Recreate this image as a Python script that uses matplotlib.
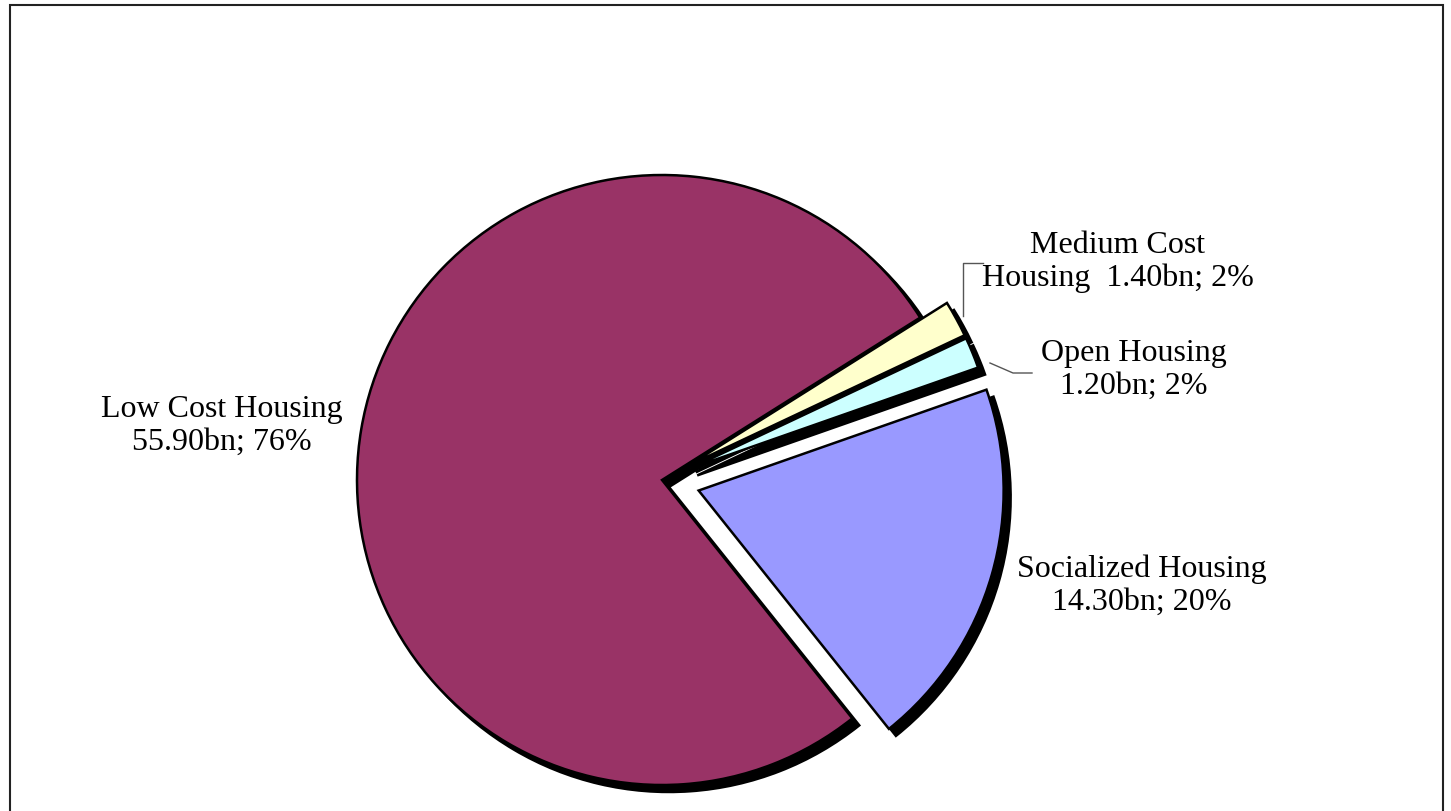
import matplotlib.pyplot as plt
from matplotlib.patches import Rectangle

# housing loan portfolio, billions
labels = ["Socialized Housing", "Open Housing", "Medium Cost Housing", "Low Cost Housing"]
values = [14.30, 1.20, 1.40, 55.90]
pct_text = ["20%", "2%", "2%", "76%"]
colors = ["#9999FF", "#CCFFFF", "#FFFFCC", "#993366"]
explode = [0.125, 0.1, 0.1, 0.0]

W, H = 1451, 811
fig = plt.figure(figsize=(W / 100, H / 100), dpi=100)
ax = fig.add_axes([0, 0, 1, 1])

cx, cy, r = 662, H - 480, 305
start = -51.4
# pie() offsets exploded wedges in data units, so scale by the radius
offs = [e * r for e in explode]

# black drop shadow under the pie
ax.pie(values, explode=offs, startangle=start, counterclock=True,
       center=(cx + 7, cy - 7), radius=r, colors=["black"] * 4,
       wedgeprops=dict(edgecolor="black", linewidth=1.8), frame=True)
ax.pie(values, explode=offs, startangle=start, counterclock=True,
       center=(cx, cy), radius=r, colors=colors,
       wedgeprops=dict(edgecolor="black", linewidth=1.8), frame=True)
ax.set_xlim(0, W)
ax.set_ylim(0, H)
ax.set_aspect("equal")
ax.axis("off")

font = dict(family="Liberation Serif", fontsize=23, color="black")

ax.text(222, H - 426, f"Low Cost Housing\n{values[3]:.2f}bn; {pct_text[3]}",
        ha="center", va="center", linespacing=1.17, **font)
ax.text(1142, H - 586, f"Socialized Housing\n{values[0]:.2f}bn; {pct_text[0]}",
        ha="center", va="center", linespacing=1.17, **font)
ax.text(1134, H - 370, f"Open Housing\n{values[1]:.2f}bn; {pct_text[1]}",
        ha="center", va="center", linespacing=1.17, **font)
ax.text(1118, H - 262, f"Medium Cost\nHousing  {values[2]:.2f}bn; {pct_text[2]}",
        ha="center", va="center", linespacing=1.17, **font)

# leader lines for the two thin slices
ax.plot([983, 963, 963], [H - 263, H - 263, H - 316], color="#555555", lw=1.0)
ax.plot([1032, 1013, 990], [H - 373, H - 373, H - 363], color="#555555", lw=1.0)

# chart area border
ax.add_patch(Rectangle((10, -20), 1433, H - 5 + 20, fill=False,
                       edgecolor="#222222", linewidth=1.5))

fig.savefig("out.png", dpi=100)
